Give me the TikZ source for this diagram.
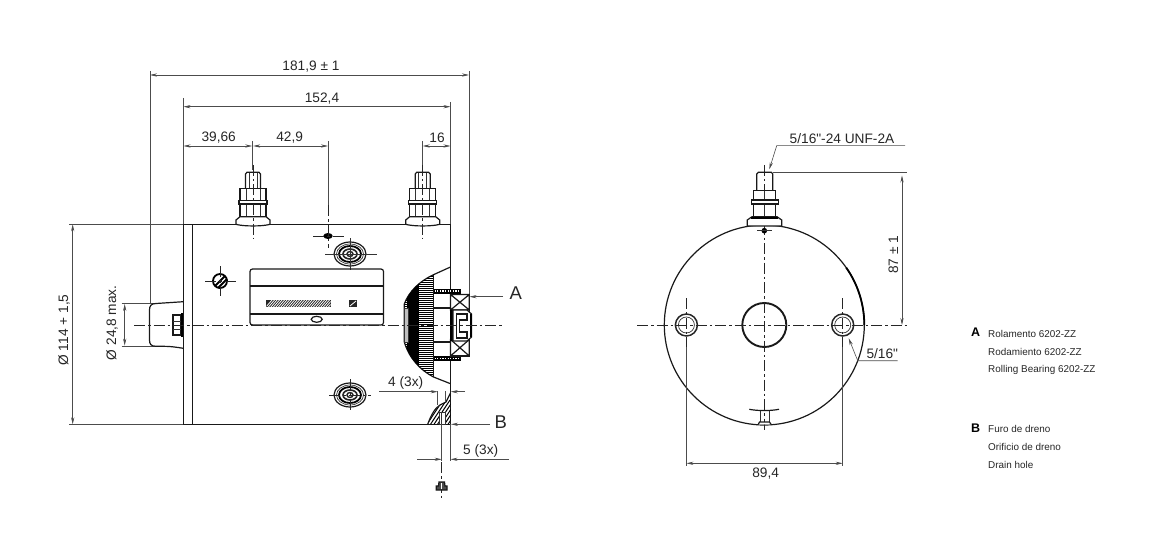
\documentclass[tikz,border=0pt]{standalone}
\usepackage{fontspec}
\newfontfamily\drawfont{Liberation Sans}
\usetikzlibrary{arrows.meta}

\begin{document}
\begin{tikzpicture}[x=1pt,y=-1pt,>={Stealth[length=7pt,width=3.2pt]},
        outline/.style={line width=1.2pt,black!90},
        fine/.style={line width=.7pt,black!80},
        dim/.style={line width=.6pt,black!70},
        axis/.style={line width=.85pt,black!85,dash pattern=on 11pt off 3pt on 2.5pt off 3pt},
        label/.style={inner sep=0pt,text=black!85,font=\drawfont\fontsize{13.7}{16}\selectfont},
        letter/.style={inner sep=0pt,text=black!85,font=\drawfont\fontsize{18.5}{20}\selectfont},
        legend/.style={inner sep=0pt,anchor=west,text=black!85,font=\drawfont\fontsize{9.9}{12}\selectfont},
        legendkey/.style={inner sep=0pt,text=black,font=\drawfont\fontsize{12.5}{14}\selectfont\bfseries}]

        \useasboundingbox (0,0) rectangle (1161,548);

        % side view, dimensions
        \draw[dim] (150,71) -- (150,304);
        \draw[dim] (469,71) -- (469,296);
        \draw[dim] (183.5,98) -- (183.5,224);
        \draw[dim] (450.5,102) -- (450.5,224);
        \draw[dim] (252.7,141) -- (252.7,170);
        \draw[dim] (328,141) -- (328,210);
        \draw[dim] (422.7,141) -- (422.7,170);
        \draw[dim,<->] (150,75) -- (469,75);
        \draw[dim,<->] (183.5,106.7) -- (450.5,106.7);
        \draw[dim,<->] (183.5,146) -- (252.2,146);
        \draw[dim,<->] (253.2,146) -- (328,146);
        \draw[dim,<->] (422.7,146) -- (450.5,146);
        \node[label] (total) at (311,67) {181,9 ± 1};
        \node[label] (mount) at (322,98.5) {152,4};
        \node[label] (first) at (218.7,138) {39,66};
        \node[label] (second) at (289.7,138) {42,9};
        \node[label] (third) at (437,138) {16};

        \draw[dim] (69,224.3) -- (183.5,224.3);
        \draw[dim] (69,424.3) -- (183.5,424.3);
        \draw[dim,<->] (72.7,224.3) -- (72.7,424.3);
        \draw[dim] (121.7,303.3) -- (155,303.3);
        \draw[dim] (121.7,346.3) -- (155,346.3);
        \draw[dim,<->] (124.7,304) -- (124.7,345.6);
        \node[label,rotate=90] (housing) at (64,330) {Ø 114 + 1,5};
        \node[label,rotate=90] (cap) at (112,322.7) {Ø 24,8 max.};

        % side view, body
        \draw[outline] (183.5,224.3) rectangle (450.5,424.3);
        \draw[outline] (192.7,224.3) -- (192.7,424.3);
        \draw[outline] (183.5,301.7) .. controls (170,303.5) .. (156,303.5)
            .. controls (151,303.5) and (149.5,306) .. (149.5,310) -- (149.5,340)
            .. controls (149.5,344) and (151,346.3) .. (156,346.3)
            .. controls (170,346.3) .. (183.5,348.3);
        \draw[outline] (173,315) rectangle (181,335);
        \draw[fine] (173,321) -- (181,321) (173,329) -- (181,329);
        \draw[line width=2pt] (182,313) -- (182,337);

        % terminals
        \foreach \tx in {253,422.7} {
          \draw[outline] (\tx-7.5,188.7) -- (\tx-7.5,174) -- (\tx-6,172.3) -- (\tx+6,172.3) -- (\tx+7.5,174) -- (\tx+7.5,188.7);
          \draw[fine] (\tx-4,173) -- (\tx-4,188) (\tx+4,173) -- (\tx+4,188);
          \draw[outline] (\tx-13,188.7) rectangle (\tx+13,216.7);
          \draw[fine] (\tx-7,188.7) -- (\tx-7,216.7) (\tx+7,188.7) -- (\tx+7,216.7);
          \draw[outline,fill=white] (\tx-14,200.7) rectangle (\tx+14,204);
          \draw[outline,fill=white] (\tx-13,216.7) -- (\tx+13,216.7) -- (\tx+17,220) -- (\tx+17,224.3)
              .. controls (\tx+10,226.5) and (\tx-10,226.5) .. (\tx-17,224.3) -- (\tx-17,220) -- cycle;
          \draw[axis] (\tx,165) -- (\tx,239);
        }

        % connectors on the housing
        \foreach \cy in {254,395} {
          \draw[outline] (350,\cy) ellipse [x radius=16,y radius=12];
          \draw[fine] (350,\cy) ellipse [x radius=13.5,y radius=10];
          \draw[line width=1.8pt] (350,\cy) ellipse [x radius=11,y radius=8];
          \draw[line width=1.6pt,black!85] (350,\cy) ellipse [x radius=7,y radius=5];
          \draw[line width=1.4pt,black!85] (350,\cy) ellipse [x radius=3,y radius=2.5];
        }
        \draw[fine] (325,254) -- (377,254) (350,238) -- (350,270);
        \draw[axis] (329,395) -- (371,395) (350,379) -- (350,411);
        \fill (328,236) ellipse [x radius=4.7,y radius=3];
        \draw[axis] (328,205) -- (328,248);
        \draw[axis] (313,236) -- (344,236);
        \draw[line width=1.8pt] (220,281) circle [radius=7];
        \draw[line width=1.8pt] (215,286) -- (225,276) (218,288) -- (227,279);
        \draw[axis] (205,281) -- (236,281) (220,266) -- (220,296);

        % name plate
        \draw[outline,rounded corners=2.5pt] (250,269) rectangle (383.5,325);
        \draw[outline] (250,286) -- (383.5,286) (250,314) -- (383.5,314);
        \fill[black!85] (266,300) rectangle (331,307);
        \begin{scope}
          \clip (266.5,300.5) rectangle (330.5,306.5);
          \foreach \hx in {266,268.5,...,336}
            \draw[white,line width=.8pt] (\hx,307) -- (\hx+6,300);
        \end{scope}
        \fill[black!85] (349,300) rectangle (357,307);
        \draw[white,line width=.8pt] (350,306) -- (356,301);
        \draw[outline] (316.7,319.3) ellipse [x radius=5.5,y radius=3];

        % end bell and bearing
        \draw[outline] (450.5,267) -- (433.5,274.7) .. controls (420,281) and (409,291) .. (404.3,304)
            -- (404.3,342) .. controls (409,358) and (420,370) .. (433.5,377) -- (450.5,383.7);
        \begin{scope}
          \clip (450.5,267) -- (433.5,274.7) .. controls (420,281) and (409,291) .. (404.3,304)
            -- (404.3,342) .. controls (409,358) and (420,370) .. (433.5,377) -- (433.5,274.7) -- cycle;
          \foreach \hy in {272,274,...,380}
            \draw[line width=1pt] (404,\hy) -- (434,\hy);
          \foreach \vx in {408,410,...,418}
            \draw[line width=1.4pt] (\vx,270) -- (\vx,380);
        \end{scope}
        \draw[fine,fill=black!25] (404.3,308) rectangle (408,342);
        \draw[outline] (433.5,274.7) -- (433.5,377);
        \draw[outline] (433.5,308) -- (450.5,308) (433.5,342) -- (450.5,342);
        \foreach \by in {291,358.8} {
          \draw[line width=5pt] (433.5,\by) -- (461,\by);
          \draw[white,line width=1.3pt,dash pattern=on 1.3pt off 1.3pt] (434.5,\by) -- (461,\by);
        }
        \draw[outline,fill=white] (450.5,294.5) rectangle (469.3,356);
        \foreach \ty/\by in {294.5/310,339.5/356}
          \draw[outline] (450.5,\ty) rectangle (469.3,\by) (450.5,\ty) -- (469.3,\by) (450.5,\by) -- (469.3,\ty);
        \draw[line width=3pt] (451.5,309.5) -- (451.5,341);
        \draw[outline,fill=white] (453,310) -- (467,310) -- (471.5,314) -- (471.5,337) -- (467,341) -- (453,341) -- cycle;
        \draw[line width=2pt] (471,314) -- (471,337);
        \draw[outline] (456.7,314) -- (467,314) -- (467,320) -- (459.5,320) -- (459.5,332) -- (467,332) -- (467,338) -- (456.7,338) -- cycle;
        \draw[axis] (134,325) -- (503,325);
        \draw[dim,->] (503,296.7) -- (469.5,296.7);
        \node[letter] (bearing) at (515.7,293) {A};

        % drain hole
        \begin{scope}
          \clip (427.7,424.3) .. controls (431,415) and (435,408) .. (440,405) -- (446,402) -- (450.5,393) -- (450.5,424.3) -- cycle;
          \foreach \hx in {420,423.5,...,456}
            \draw[line width=1pt] (\hx,424.3) -- (\hx+16,400);
        \end{scope}
        \draw[outline] (427.7,424.3) .. controls (431,415) and (435,408) .. (440,405) -- (446,402) -- (450.5,393);
        \draw[fine,fill=white] (439,412.3) rectangle (445,424.3);
        \draw[fine] (441.2,412.3) -- (441.2,424.3);
        \draw[dim] (437.7,391) -- (437.7,405) (445.7,391) -- (445.7,402);
        \draw[dim,->] (379,391.7) -- (437.7,391.7);
        \draw[dim,->] (465,391.7) -- (450.7,391.7);
        \node[label] (slot) at (405.7,382.7) {4 (3x)};
        \draw[dim,->] (490,424.3) -- (451,424.3);
        \node[letter] (drain) at (500.7,422) {B};
        \draw[dim] (441.7,424.3) -- (441.7,461) (450.5,424.3) -- (450.5,461);
        \draw[dim,->] (417,459.3) -- (441.7,459.3);
        \draw[dim,->] (509,459.3) -- (450.5,459.3);
        \node[label] (offset) at (480.7,450.7) {5 (3x)};
        \draw[axis] (441.7,462) -- (441.7,500);
        \draw[outline,fill=black!70] (438.5,486) -- (439,482) -- (444.5,482) -- (445,486) -- (447,486) -- (447,490) -- (436.2,490) -- (436.2,486) -- cycle;
        \draw[white,line width=.5pt] (441.7,483) -- (441.7,489);

        % end view
        \draw[outline] (764.3,325) circle [radius=100];
        \draw[line width=1.8pt] plot[domain=0:35,samples=15] ({764.3+100*cos(\x)},{325-100*sin(\x)});
        \draw[line width=1.9pt,black!90] (764.3,325) circle [radius=22];
        \foreach \hx in {686.4,842.7} {
          \draw[line width=1.5pt,black!85] (\hx,325) circle [radius=11];
          \draw[fine] (\hx,325) circle [radius=8];
          \draw[axis] (\hx,298) -- (\hx,347);
          \draw[dim] (\hx,347) -- (\hx,466);
        }
        \draw[axis] (637,325) -- (908,325);
        \draw[axis] (764.3,165) -- (764.3,430);

        \draw[outline] (756.8,190.7) -- (756.8,174) -- (758.3,172.3) -- (771.3,172.3) -- (772.8,174) -- (772.8,190.7);
        \draw[outline] (753.3,190.7) rectangle (775.7,216.7);
        \draw[fine] (764.3,190.7) -- (764.3,216.7);
        \draw[outline,fill=white] (751.3,200) rectangle (778.7,204);
        \draw[outline,fill=white] (752,216.7) -- (777,216.7) -- (781.7,220) -- (781.7,226) -- (747.3,226) -- (747.3,220) -- cycle;
        \draw[line width=2pt] (751,217.5) -- (778,217.5);
        \fill (764.3,230.7) circle [radius=2.8];
        \draw[fine] (757,230.7) -- (772,230.7);

        \draw[outline] (749.3,409.3) .. controls (758,411) and (770,411) .. (779,409.3);
        \draw[fine] (760,410.5) -- (760,424) (769.3,410.5) -- (769.3,424);
        \draw[outline,fill=white] (758.3,424.3) -- (759.5,422) -- (769.5,422) -- (771,424.3);

        \draw[dim,<->] (686.4,463.3) -- (842.7,463.3);
        \node[label] (pitch) at (765.7,473.3) {89,4};
        \draw[dim] (772.8,172.3) -- (906.7,172.3);
        \draw[dim,<->] (902,325) -- (902,175.5);
        \node[label,rotate=90] (height) at (893.3,255) {87 ± 1};
        \draw[dim,->] (905,145.7) -- (776.7,145.7) -- (769.3,169.3);
        \node[label] (thread) at (842,138.3) {5/16"-24 UNF-2A};
        \draw[dim,->] (897.7,360.7) -- (857.7,360.7) -- (848.7,338.3);
        \node[label] (bore) at (882.3,353.3) {5/16"};

        % legend
        \node[legendkey] (keya) at (975.5,332) {A};
        \node[legend] (a1) at (988,333.7) {Rolamento 6202-ZZ};
        \node[legend] (a2) at (988,351.7) {Rodamiento 6202-ZZ};
        \node[legend] (a3) at (988,369.7) {Rolling Bearing 6202-ZZ};
        \node[legendkey] (keyb) at (975.5,428) {B};
        \node[legend] (b1) at (988,429) {Furo de dreno};
        \node[legend] (b2) at (988,447) {Orificio de dreno};
        \node[legend] (b3) at (988,465) {Drain hole};
      \end{tikzpicture}
\end{document}
